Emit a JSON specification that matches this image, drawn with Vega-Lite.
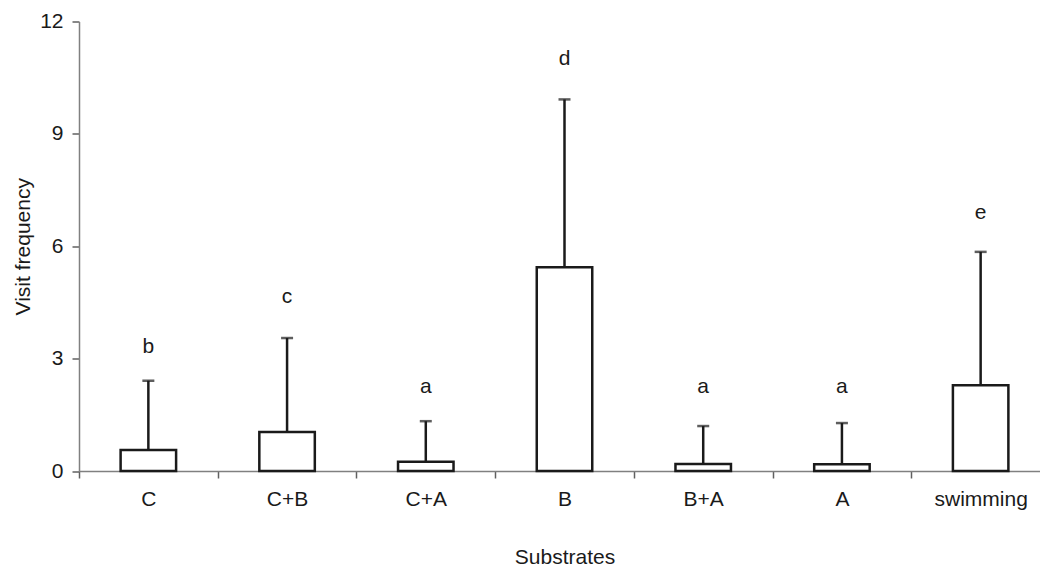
{
  "$schema": "https://vega.github.io/schema/vega-lite/v6.json",
  "autosize": "none",
  "padding": {"left": 79, "top": 21.5, "right": 0, "bottom": 97},
  "width": 961,
  "height": 449.5,
  "background": "white",
  "config": {
    "view": {"stroke": null},
    "font": "Liberation Sans",
    "axis": {"grid": false, "labelFont": "Liberation Sans", "titleFont": "Liberation Sans", "labelColor": "#1a1a1a", "titleColor": "#1a1a1a", "titleFontWeight": "normal", "domainColor": "#808080", "tickColor": "#606060", "domainWidth": 1.5, "tickWidth": 1.5}
  },
  "data": {
    "values": [
      {"substrate": "C", "mean": 0.56, "upper": 2.41, "letter": "b", "letter_y": 3.16},
      {"substrate": "C+B", "mean": 1.04, "upper": 3.55, "letter": "c", "letter_y": 4.48},
      {"substrate": "C+A", "mean": 0.25, "upper": 1.33, "letter": "a", "letter_y": 2.07},
      {"substrate": "B", "mean": 5.44, "upper": 9.92, "letter": "d", "letter_y": 10.83},
      {"substrate": "B+A", "mean": 0.19, "upper": 1.2, "letter": "a", "letter_y": 2.07},
      {"substrate": "A", "mean": 0.18, "upper": 1.28, "letter": "a", "letter_y": 2.08},
      {"substrate": "swimming", "mean": 2.29, "upper": 5.85, "letter": "e", "letter_y": 6.72}
    ]
  },
  "encoding": {
    "x": {
      "field": "substrate", "type": "nominal", "sort": null,
      "scale": {"paddingInner": 0, "paddingOuter": 0, "range": [0, 971]},
      "axis": {"title": "Substrates", "labelAngle": 0, "labelFontSize": 21, "titleFontSize": 21, "tickBand": "extent", "tickSize": 7, "labelPadding": 10, "titlePadding": 37}
    }
  },
  "layer": [
    {
      "mark": {"type": "rule", "color": "#1a1a1a", "strokeWidth": 2.5},
      "encoding": {
        "y": {"field": "mean", "type": "quantitative", "scale": {"domain": [0, 12], "nice": false},
          "axis": {"title": "Visit frequency", "values": [0, 3, 6, 9, 12], "labelFontSize": 21, "titleFontSize": 21, "tickSize": 7, "labelPadding": 9, "titlePadding": 6}},
        "y2": {"field": "upper"}
      }
    },
    {
      "mark": {"type": "tick", "orient": "horizontal", "color": "#1a1a1a", "size": 12, "thickness": 2.5},
      "encoding": {"y": {"field": "upper", "type": "quantitative"}}
    },
    {
      "mark": {"type": "bar", "fill": "white", "stroke": "#1a1a1a", "strokeWidth": 2.5, "width": {"band": 0.4}},
      "encoding": {"y": {"field": "mean", "type": "quantitative"}, "y2": {"datum": 0}}
    },
    {
      "mark": {"type": "text", "fontSize": 21, "color": "#1a1a1a", "baseline": "alphabetic"},
      "encoding": {"y": {"field": "letter_y", "type": "quantitative"}, "text": {"field": "letter"}}
    }
  ]
}
